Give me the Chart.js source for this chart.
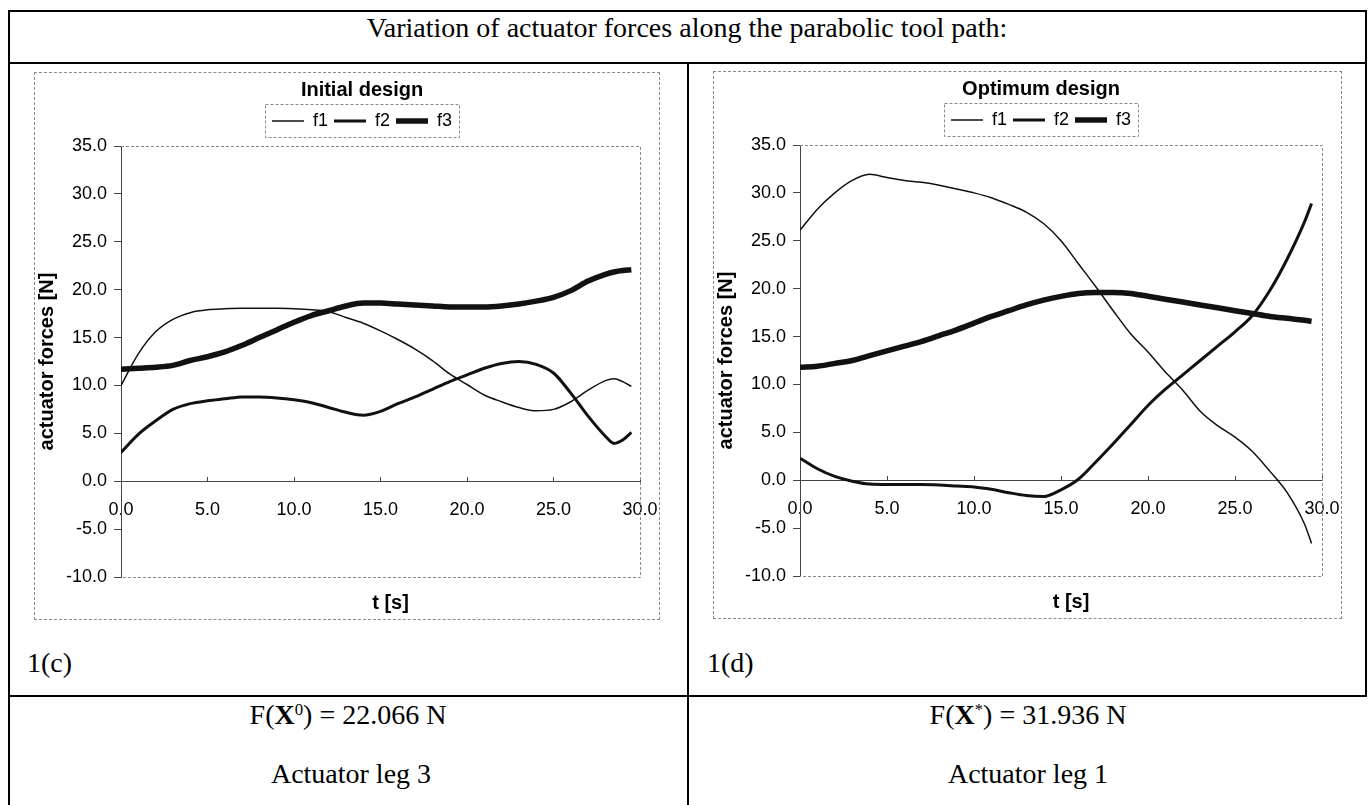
<!DOCTYPE html>
<html>
<head>
<meta charset="utf-8">
<script src="https://cdn.jsdelivr.net/npm/chart.js@4.4.1/dist/chart.umd.min.js"></script>
<style>
  body { margin: 0; width: 1370px; height: 805px; background: #fff; position: relative; overflow: hidden;
         font-family: "Liberation Serif", "Times New Roman", serif; color: #000; }
  .line { position: absolute; background: #000; }
  .box { position: absolute; border: 1px dashed #8a8a8a; box-sizing: border-box; }
  .txt { position: absolute; font-size: 28px; line-height: 28px; white-space: nowrap; }
  .ctr { transform: translateX(-50%); }
  sup { font-size: 60%; vertical-align: 0.55em; line-height: 0; }
  canvas { position: absolute; }
</style>
</head>
<body>

<!-- table grid -->
<div class="line" style="left:8px; top:10px; width:1358px; height:2px"></div>
<div class="line" style="left:8px; top:62px; width:1358px; height:2px"></div>
<div class="line" style="left:8px; top:695px; width:1358px; height:2px"></div>
<div class="line" style="left:8px; top:10px; width:1.5px; height:795px"></div>
<div class="line" style="left:687px; top:62px; width:1.5px; height:743px"></div>
<div class="line" style="left:1365px; top:10px; width:1.5px; height:687px"></div>

<div class="txt ctr" style="left:687px; top:14px">Variation of actuator forces along the parabolic tool path:</div>

<div class="box" style="left:34px; top:72px; width:626px; height:548px"></div>
<div class="box" style="left:713px; top:71px; width:629px; height:548px"></div>
<canvas id="initial" width="656" height="548" style="left:34px; top:72px"></canvas>
<canvas id="optimum" width="656" height="548" style="left:713px; top:71px"></canvas>

<div class="txt" style="left:27px; top:649px">1(c)</div>
<div class="txt" style="left:707px; top:649px">1(d)</div>

<div class="txt ctr" id="resInitial" style="left:348px; top:701px"></div>
<div class="txt ctr" style="left:351px; top:760px">Actuator leg 3</div>
<div class="txt ctr" id="resOptimum" style="left:1028px; top:701px"></div>
<div class="txt ctr" style="left:1028px; top:760px">Actuator leg 1</div>

<script>
// time samples [s] and actuator forces [N]
const tInitial  = [0, 1, 2, 3, 4, 5, 6, 7, 8, 9, 10, 11, 12, 13, 14, 15, 16, 17, 18, 19, 20, 21, 22, 23, 24, 25, 26, 27, 28, 28.5, 29, 29.5];
const f1Initial = [10.0, 13.3, 15.6, 16.9, 17.6, 17.9, 18.0, 18.05, 18.05, 18.05, 18.0, 17.9, 17.7, 17.1, 16.5, 15.7, 14.8, 13.8, 12.6, 11.2, 10.1, 9.0, 8.3, 7.7, 7.35, 7.5, 8.3, 9.5, 10.5, 10.7, 10.4, 9.9];
const f2Initial = [3.0, 4.9, 6.3, 7.5, 8.1, 8.4, 8.6, 8.8, 8.8, 8.7, 8.5, 8.2, 7.7, 7.2, 6.9, 7.3, 8.1, 8.8, 9.6, 10.4, 11.1, 11.8, 12.3, 12.5, 12.2, 11.3, 9.2, 6.8, 4.7, 3.95, 4.3, 5.1];
const f3Initial = [11.7, 11.8, 11.9, 12.1, 12.6, 13.0, 13.5, 14.2, 15.0, 15.8, 16.6, 17.3, 17.8, 18.3, 18.6, 18.6, 18.5, 18.4, 18.3, 18.2, 18.2, 18.2, 18.3, 18.5, 18.8, 19.2, 19.9, 20.9, 21.6, 21.85, 22.0, 22.066];

const tOptimum  = [0, 1, 2, 3, 4, 5, 6, 7, 8, 9, 10, 11, 12, 13, 14, 15, 16, 17, 18, 19, 20, 21, 22, 23, 24, 25, 26, 27, 28, 29, 29.4];
const f1Optimum = [26.1, 28.3, 30.0, 31.3, 31.936, 31.6, 31.3, 31.1, 30.8, 30.4, 30.0, 29.5, 28.8, 28.0, 26.8, 25.0, 22.6, 20.2, 17.7, 15.3, 13.4, 11.3, 9.4, 7.2, 5.7, 4.5, 3.0, 0.95, -1.3, -4.6, -6.6];
const f2Optimum = [2.3, 1.2, 0.4, -0.1, -0.4, -0.45, -0.45, -0.45, -0.5, -0.6, -0.7, -0.95, -1.3, -1.6, -1.7, -1.0, 0.1, 1.9, 3.8, 5.8, 7.8, 9.5, 11.0, 12.5, 14.0, 15.5, 17.2, 19.8, 23.1, 27.0, 28.9];
const f3Optimum = [11.8, 11.9, 12.2, 12.5, 13.0, 13.5, 14.0, 14.5, 15.1, 15.7, 16.4, 17.1, 17.7, 18.3, 18.8, 19.2, 19.5, 19.6, 19.6, 19.5, 19.2, 18.9, 18.6, 18.3, 18.0, 17.7, 17.4, 17.1, 16.9, 16.7, 16.6];

const seriesNames = ['f1', 'f2', 'f3'];
const lineWidths = [1.5, 3, 5.5];
const xTickValues = [0, 5, 10, 15, 20, 25, 30];
const yTickValues = [-10, -5, 0, 5, 10, 15, 20, 25, 30, 35];

const sans = '"Liberation Sans", Arial, sans-serif';

// grey frame around the plot area and around the legend, plus the x axis title
const framePlugin = {
  id: 'frames',
  beforeInit(chart) {
    // leave a little room between legend and plot
    const fit = chart.legend.fit;
    chart.legend.fit = function () {
      fit.call(this);
      this.height += 6;
    };
  },
  afterDraw(chart) {
    const {ctx, chartArea: a} = chart;
    ctx.save();
    ctx.strokeStyle = '#8a8a8a';
    ctx.lineWidth = 1;
    ctx.setLineDash([3, 2]);
    ctx.beginPath();
    ctx.moveTo(a.left, a.top + 0.5);
    ctx.lineTo(a.right + 0.5, a.top + 0.5);
    ctx.lineTo(a.right + 0.5, a.bottom + 0.5);
    ctx.lineTo(a.left, a.bottom + 0.5);
    ctx.stroke();

    const boxes = chart.legend.legendHitBoxes;
    if (boxes.length) {
      const l = boxes[0].left - 7;
      const r = boxes[boxes.length - 1].left + boxes[boxes.length - 1].width + 7;
      const t = boxes[0].top - 8;
      const b = boxes[0].top + boxes[0].height + 7;
      ctx.strokeRect(Math.round(l) + 0.5, Math.round(t) + 0.5, Math.round(r - l), Math.round(b - t));
    }
    ctx.restore();

    ctx.save();
    ctx.fillStyle = '#000';
    ctx.font = 'bold 20px ' + sans;
    ctx.textAlign = 'center';
    ctx.textBaseline = 'middle';
    ctx.fillText('t [s]', (a.left + a.right) / 2 + 10, a.bottom + 26);
    ctx.restore();
  }
};

function makeChart(canvasId, title, times, f1, f2, f3, rightGap) {
  const values = [f1, f2, f3];
  return new Chart(document.getElementById(canvasId), {
    type: 'line',
    data: {
      datasets: seriesNames.map((name, i) => ({
        label: name,
        data: times.map((t, k) => ({x: t, y: values[i][k]})),
        borderColor: '#111',
        backgroundColor: '#111',
        borderWidth: lineWidths[i],
        pointRadius: 0,
        pointStyle: 'line',
        cubicInterpolationMode: 'monotone',
        fill: false
      }))
    },
    options: {
      responsive: false,
      animation: false,
      devicePixelRatio: 1,
      layout: {padding: {top: 0, left: 0, right: 0, bottom: 43}},
      plugins: {
        tooltip: {enabled: false},
        title: {
          display: true,
          text: title,
          color: '#000',
          font: {family: sans, size: 20, weight: 'bold'},
          padding: {top: 6, bottom: 4}
        },
        legend: {
          display: true,
          labels: {
            color: '#000',
            font: {family: sans, size: 18},
            usePointStyle: true,
            pointStyleWidth: 32,
            padding: 6
          }
        }
      },
      scales: {
        x: {
          type: 'linear',
          min: 0,
          max: 30,
          position: {y: 0},
          afterBuildTicks: s => { s.ticks = xTickValues.map(v => ({value: v})); },
          ticks: {
            color: '#000',
            font: {family: sans, size: 18},
            padding: 23,
            maxRotation: 0,
            callback: v => Number(v).toFixed(1)
          },
          grid: {drawOnChartArea: false, tickLength: -5, color: '#444'},
          border: {color: '#444', width: 1}
        },
        y: {
          min: -10,
          max: 35,
          afterBuildTicks: s => { s.ticks = yTickValues.map(v => ({value: v})); },
          afterFit: s => { s.width = 87; },
          ticks: {
            color: '#000',
            font: {family: sans, size: 18},
            padding: 7,
            callback: v => Number(v).toFixed(1)
          },
          grid: {drawOnChartArea: false, tickLength: 7, color: '#444'},
          border: {color: '#444', width: 1},
          title: {
            display: true,
            text: 'actuator forces [N]',
            color: '#000',
            font: {family: sans, size: 20, weight: 'bold'},
            padding: {top: 1, bottom: 0}
          }
        },
        // empty strip on the right of the plot, keeps title and legend centred on the frame
        gap: {
          type: 'linear',
          position: 'right',
          ticks: {display: false},
          grid: {display: false},
          border: {display: false},
          afterFit: s => { s.width = rightGap; }
        }
      }
    },
    plugins: [framePlugin]
  });
}

makeChart('initial', 'Initial design', tInitial, f1Initial, f2Initial, f3Initial, 50);
makeChart('optimum', 'Optimum design', tOptimum, f1Optimum, f2Optimum, f3Optimum, 47);

// headline results: the largest actuator force of each design
document.getElementById('resInitial').innerHTML =
  'F(<b>X</b><sup>0</sup>) = ' + Math.max(...f3Initial).toFixed(3) + ' N';
document.getElementById('resOptimum').innerHTML =
  'F(<b>X</b><sup>*</sup>) = ' + Math.max(...f1Optimum).toFixed(3) + ' N';
</script>
</body>
</html>
